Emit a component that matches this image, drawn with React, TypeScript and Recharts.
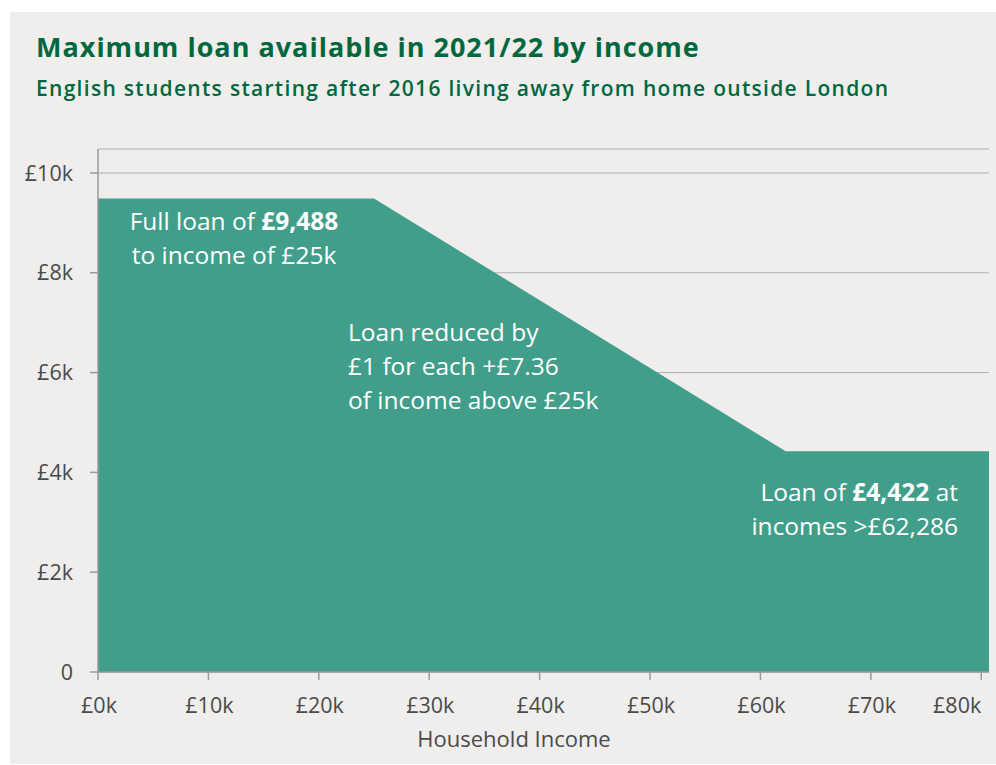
import React from 'react';
import { AreaChart, Area, XAxis, YAxis, CartesianGrid } from 'recharts';

const incomes = [0, 25000, 62286, 80700];
const loans = [9488, 9488, 4422, 4422];
const xTicks = [0, 10000, 20000, 30000, 40000, 50000, 60000, 70000, 80000];
const yTicks = [0, 2000, 4000, 6000, 8000, 10000];

const data = incomes.map((x, i) => ({ income: x, loan: loans[i] }));

const FONT = '"Open Sans", "Noto Sans", sans-serif';
const TICK_COLOR = '#4a4a4a';

const XTick = (props: any) => {
  const { x, y, payload } = props;
  const last = payload.value === xTicks[xTicks.length - 1];
  return (
    <text
      x={last ? x : x + 1}
      y={y}
      dy="0.71em"
      textAnchor={last ? 'end' : 'middle'}
      fill={TICK_COLOR}
      fontSize={21.5}
      fontFamily={FONT}
    >
      {`£${payload.value / 1000}k`}
    </text>
  );
};

export default function App() {
  return (
    <div style={{ position: 'absolute', left: 0, top: 0, width: 996, height: 765, background: '#ffffff', overflow: 'hidden' }}>
      <div style={{ position: 'absolute', left: 10, top: 12, width: 986, height: 752, background: '#efeeec' }} />
      <div style={{ position: 'absolute', left: 36, top: 28, fontFamily: FONT, fontWeight: 700, fontSize: 27, letterSpacing: '1px', color: '#00673f', whiteSpace: 'nowrap' }}>
        Maximum loan available in 2021/22 by income
      </div>
      <div style={{ position: 'absolute', left: 36, top: 74, fontFamily: FONT, fontWeight: 600, fontSize: 21, letterSpacing: '1.3px', color: '#00673f', whiteSpace: 'nowrap' }}>
        English students starting after 2016 living away from home outside London
      </div>
      <div style={{ position: 'absolute', left: 0, top: 0 }}>
        <AreaChart width={996} height={765} data={data} margin={{ top: 149, right: 7, bottom: 33, left: 38 }}>
          <CartesianGrid horizontal vertical={false} stroke="#b0b0b0" strokeWidth={1} />
          <XAxis
            dataKey="income"
            type="number"
            domain={[0, 80700]}
            ticks={xTicks}
            tick={<XTick />}
            tickSize={8}
            tickMargin={18}
            height={60}
            stroke="#9a9a9a"
            strokeWidth={1.5}
            interval={0}
          />
          <YAxis
            type="number"
            domain={[0, 10480]}
            ticks={yTicks}
            tickFormatter={(v: number) => (v === 0 ? '0' : `£${v / 1000}k`)}
            tick={{ fill: TICK_COLOR, fontSize: 21.5, fontFamily: FONT }}
            tickSize={8}
            tickMargin={17}
            width={60}
            stroke="#9a9a9a"
            strokeWidth={1.5}
            interval={0}
          />
          <Area
            type="linear"
            dataKey="loan"
            fill="#419e8a"
            fillOpacity={1}
            stroke="none"
            isAnimationActive={false}
          />
        </AreaChart>
      </div>
      <div style={{ position: 'absolute', left: 0, top: 0, width: 996, height: 765, pointerEvents: 'none', fontFamily: FONT, color: '#ffffff', fontSize: 24.5, lineHeight: '34px' }}>
        <div style={{ position: 'absolute', left: 100, width: 268, top: 204, textAlign: 'center' }}>
          Full loan of <b>£9,488</b><br />to income of £25k
        </div>
        <div style={{ position: 'absolute', left: 348, top: 315, textAlign: 'left', whiteSpace: 'nowrap' }}>
          Loan reduced by<br />£1 for each +£7.36<br />of income above £25k
        </div>
        <div style={{ position: 'absolute', right: 996 - 958, top: 475, textAlign: 'right', whiteSpace: 'nowrap' }}>
          Loan of <b>£4,422</b> at<br />incomes &gt;£62,286
        </div>
      </div>
      <div style={{ position: 'absolute', left: 314, width: 400, top: 723, textAlign: 'center', fontFamily: FONT, fontSize: 22, color: TICK_COLOR }}>
        Household Income
      </div>
    </div>
  );
}
